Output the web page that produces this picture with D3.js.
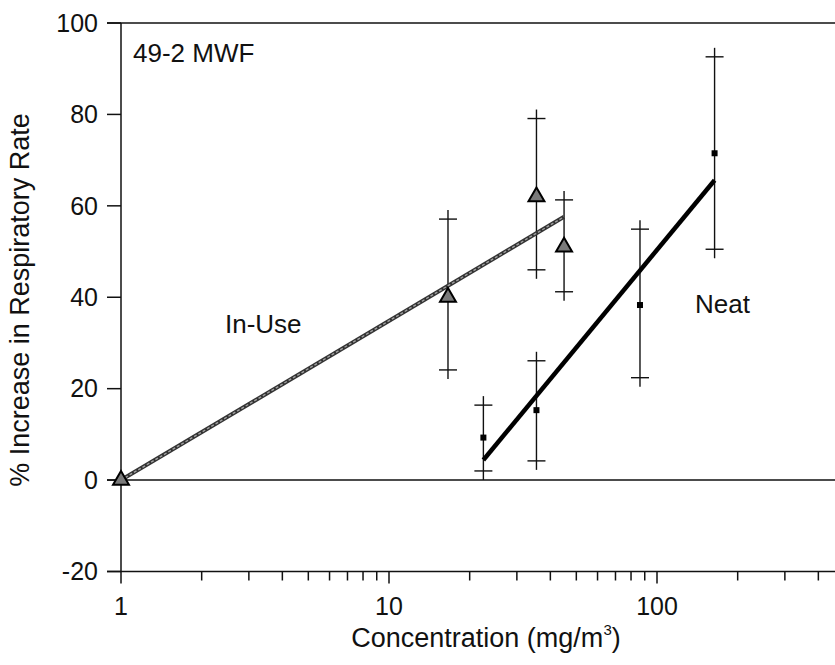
<!DOCTYPE html>
<html>
<head>
<meta charset="utf-8">
<script src="https://d3js.org/d3.v7.min.js"></script>
<style>
  body { margin: 0; background: #fff; }
  text { font-family: "Liberation Sans", Arial, Helvetica, sans-serif; fill: #111; }
</style>
</head>
<body>
<script>
const W = 835, H = 665

// In-Use series (triangles)
const inUseConc = [1, 16.6, 35.5, 45]
const inUsePct = [0, 40, 62, 51]
const inUseLow = [null, 24.1, 46, 41.2]
const inUseHigh = [null, 57.1, 79.1, 61.3]
const inUseFitConc = [1, 45]
const inUseFitPct = [0, 57.6]

// Neat series (small squares)
const neatConc = [22.5, 35.5, 86.4, 164]
const neatPct = [9.3, 15.3, 38.3, 71.5]
const neatLow = [2.0, 4.2, 22.4, 50.5]
const neatHigh = [16.4, 26.1, 54.9, 92.6]
const neatFitConc = [22.5, 164]
const neatFitPct = [4.4, 65.6]

const yTicks = [-20, 0, 20, 40, 60, 80, 100]
const xLabels = [1, 10, 100]

const plotLeft = 121, plotTop = 23, plotBottom = 571.5
const decade = 268

const x = d3.scaleLog().domain([1, 1000]).range([plotLeft, plotLeft + 3 * decade])
const y = d3.scaleLinear().domain([-20, 100]).range([plotBottom, plotTop])

const svg = d3.select("body").append("svg")
    .attr("width", W)
    .attr("height", H)

// frame lines: top, zero line, bottom, left
const axisG = svg.append("g").attr("stroke", "#111").attr("stroke-width", 1.5)
;[100, 0, -20].forEach(v => {
    axisG.append("line").attr("x1", plotLeft - 14).attr("x2", W).attr("y1", y(v)).attr("y2", y(v))
})
axisG.append("line").attr("x1", plotLeft).attr("x2", plotLeft).attr("y1", y(100)).attr("y2", plotBottom + 12)

// y ticks + labels
axisG.selectAll(".yt").data(yTicks).enter().append("line")
    .attr("x1", plotLeft - 14).attr("x2", plotLeft)
    .attr("y1", d => y(d)).attr("y2", d => y(d))
svg.selectAll(".yl").data(yTicks).enter().append("text")
    .attr("x", 98).attr("y", d => y(d)).attr("dy", "0.35em")
    .attr("text-anchor", "end").attr("font-size", 25)
    .text(d => d)

// x ticks (log minor + major)
const xt = x.ticks().filter(d => x(d) <= W && d > 1)
axisG.selectAll(".xt").data(xt).enter().append("line")
    .attr("x1", d => x(d)).attr("x2", d => x(d))
    .attr("y1", plotBottom)
    .attr("y2", d => xLabels.includes(d) ? plotBottom + 12 : plotBottom + 9)
svg.selectAll(".xl").data(xLabels).enter().append("text")
    .attr("x", d => x(d)).attr("y", 615)
    .attr("text-anchor", "middle").attr("font-size", 25)
    .text(d => d)

// axis titles
const xTitle = svg.append("text").attr("x", 486).attr("y", 647)
    .attr("text-anchor", "middle").attr("font-size", 27)
xTitle.append("tspan").text("Concentration (mg/m")
xTitle.append("tspan").attr("font-size", 15).attr("dy", -12).text("3")
xTitle.append("tspan").attr("dy", 12).text(")")

svg.append("text")
    .attr("transform", "translate(29,300) rotate(-90)")
    .attr("text-anchor", "middle").attr("font-size", 27)
    .text("% Increase in Respiratory Rate")

// annotations
svg.append("text").attr("x", 133).attr("y", 62).attr("font-size", 26).text("49-2 MWF")
svg.append("text").attr("x", 225).attr("y", 333).attr("font-size", 26).text("In-Use")
svg.append("text").attr("x", 695).attr("y", 313).attr("font-size", 26).text("Neat")

// error bars
function errorBars(conc, low, high) {
    const g = svg.append("g").attr("stroke", "#111").attr("stroke-width", 1.4)
    conc.forEach((c, i) => {
        if (low[i] == null) return
        const cx = x(c)
        g.append("line").attr("x1", cx).attr("x2", cx)
            .attr("y1", y(high[i]) - 9).attr("y2", y(low[i]) + 9)
        ;[low[i], high[i]].forEach(v => {
            g.append("line").attr("x1", cx - 9).attr("x2", cx + 9)
                .attr("y1", y(v)).attr("y2", y(v))
        })
    })
}
errorBars(inUseConc, inUseLow, inUseHigh)
errorBars(neatConc, neatLow, neatHigh)

// fitted lines
const line = d3.line().x(d => x(d[0])).y(d => y(d[1]))
const inUseFit = d3.zip(inUseFitConc, inUseFitPct)
svg.append("path").attr("d", line(inUseFit))
    .attr("fill", "none").attr("stroke", "#333").attr("stroke-width", 4)
svg.append("path").attr("d", line(inUseFit))
    .attr("fill", "none").attr("stroke", "#a0a0a0").attr("stroke-width", 1.4)
    .attr("stroke-dasharray", "3,2")

svg.append("path").attr("d", line(d3.zip(neatFitConc, neatFitPct)))
    .attr("fill", "none").attr("stroke", "#000").attr("stroke-width", 4.5)

// markers
const tri = d3.symbol().type(d3.symbolTriangle).size(110)
svg.selectAll(".tri").data(d3.zip(inUseConc, inUsePct)).enter().append("path")
    .attr("d", tri)
    .attr("transform", d => `translate(${x(d[0])},${y(d[1])})`)
    .attr("fill", "#7a7a7a").attr("stroke", "#000").attr("stroke-width", 2)

svg.selectAll(".sq").data(d3.zip(neatConc, neatPct)).enter().append("rect")
    .attr("x", d => x(d[0]) - 3).attr("y", d => y(d[1]) - 3)
    .attr("width", 6).attr("height", 6)
    .attr("fill", "#000")
</script>
</body>
</html>
